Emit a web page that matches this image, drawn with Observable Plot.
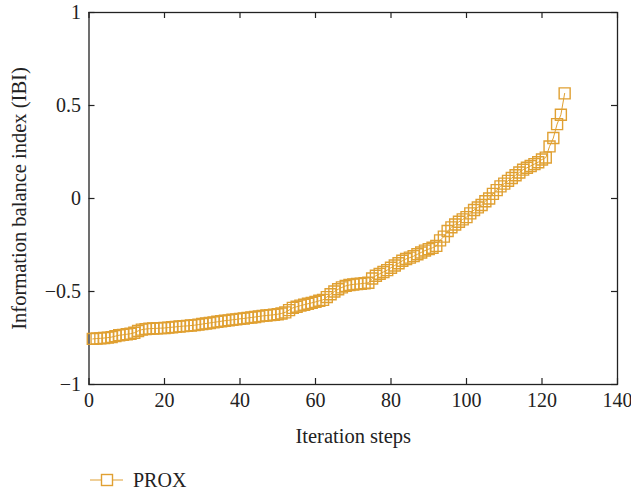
<!DOCTYPE html>
<html>
<head>
<meta charset="utf-8">
<script src="https://cdn.jsdelivr.net/npm/d3@7"></script>
<script src="https://cdn.jsdelivr.net/npm/@observablehq/plot@0.6"></script>
<style>
  body { margin: 0; background: #fff; font-family: "Liberation Serif", "DejaVu Serif", serif; }
  #legend { position: relative; height: 35px; }
</style>
</head>
<body>
<div id="chart"></div>
<div id="legend"></div>
<script>
const seriesName = "PROX";
const xLabel = "Iteration steps";
const yLabel = "Information balance index (IBI)";
const xTicks = [0, 20, 40, 60, 80, 100, 120, 140];
const yTicks = [-1, -0.5, 0, 0.5, 1];
const ibi = [
  -0.755, -0.753, -0.752, -0.750, -0.748, -0.745, -0.740, -0.735, -0.733, -0.730,
  -0.727, -0.722, -0.712, -0.705, -0.702, -0.700, -0.699, -0.698, -0.697, -0.696,
  -0.694, -0.692, -0.690, -0.688, -0.686, -0.685, -0.683, -0.681, -0.678, -0.675,
  -0.672, -0.669, -0.666, -0.663, -0.660, -0.657, -0.655, -0.652, -0.650, -0.647,
  -0.645, -0.642, -0.640, -0.637, -0.634, -0.631, -0.629, -0.627, -0.625, -0.622,
  -0.618, -0.612, -0.600, -0.588, -0.582, -0.576, -0.571, -0.566, -0.561, -0.556,
  -0.550, -0.545, -0.530, -0.515, -0.500, -0.488, -0.478, -0.470, -0.465, -0.462,
  -0.460, -0.458, -0.456, -0.453, -0.430, -0.415, -0.405, -0.395, -0.385, -0.372,
  -0.360, -0.348, -0.335, -0.325, -0.318, -0.310, -0.300, -0.290, -0.280, -0.272,
  -0.265, -0.255, -0.225, -0.205, -0.175, -0.155, -0.140, -0.125, -0.112, -0.100,
  -0.080, -0.062, -0.048, -0.035, -0.015, 0.000, 0.025, 0.045, 0.065, 0.080,
  0.095, 0.110, 0.125, 0.140, 0.155, 0.165, 0.175, 0.185, 0.195, 0.210,
  0.220, 0.280, 0.325, 0.400, 0.450, 0.565
];
const steps = ibi.map((_, i) => i + 1);
const data = steps.map((s, i) => ({step: s, value: ibi[i]}));

const color = "#E0A032";
const W = 631, H = 456;
const mL = 88.5, mR = 14, mT = 12, mB = 72;
const pw = W - mL - mR, ph = H - mT - mB;
const tick = 6;
const fmt = d => (d < 0 ? "\u2212" + Math.abs(d) : String(d));
const FONT = "Liberation Serif, DejaVu Serif, serif";

const chart = Plot.plot({
  width: W, height: H,
  marginLeft: mL, marginRight: mR, marginTop: mT, marginBottom: mB,
  style: {fontFamily: FONT, fontSize: "20px", color: "#222", background: "white"},
  x: {domain: [0, 140]},
  y: {domain: [-1, 1]},
  marks: [
    Plot.frame({stroke: "#222", strokeWidth: 1.3}),
    Plot.axisX(xTicks, {tickSize: 0, tickPadding: 8, tickFormat: fmt, fontSize: 20, label: null}),
    Plot.axisY(yTicks, {tickSize: 0, tickPadding: 8, tickFormat: fmt, fontSize: 20, label: null}),
    Plot.axisX({ticks: [], tickSize: 0, label: xLabel, labelAnchor: "center", labelOffset: 58, labelArrow: "none", fontSize: 20.5}),
    Plot.axisY({ticks: [], tickSize: 0, label: yLabel, labelAnchor: "center", labelOffset: 78, labelArrow: "none", fontSize: 20.5}),
    Plot.ruleX(xTicks, {x: d => d, insetTop: ph - tick, stroke: "#222", strokeWidth: 1.2}),
    Plot.ruleX(xTicks, {x: d => d, insetBottom: ph - tick, stroke: "#222", strokeWidth: 1.2}),
    Plot.ruleY(yTicks, {y: d => d, insetRight: pw - tick, stroke: "#222", strokeWidth: 1.2}),
    Plot.ruleY(yTicks, {y: d => d, insetLeft: pw - tick, stroke: "#222", strokeWidth: 1.2}),
    Plot.line(data, {x: "step", y: "value", stroke: color, strokeWidth: 1}),
    Plot.dot(data, {x: "step", y: "value", symbol: "square", r: 6.2, stroke: color, strokeWidth: 1.4, fill: "none"})
  ]
});
document.getElementById("chart").appendChild(chart);

// legend below the chart
const lg = d3.select("#legend").append("svg").attr("width", W).attr("height", 35);
lg.append("line").attr("x1", 90).attr("x2", 123).attr("y1", 24).attr("y2", 24)
  .attr("stroke", color).attr("stroke-width", 1.2);
lg.append("rect").attr("x", 101.5).attr("y", 18.5).attr("width", 11).attr("height", 11)
  .attr("fill", "white").attr("stroke", color).attr("stroke-width", 1.4);
lg.append("text").attr("x", 133).attr("y", 31).text(seriesName)
  .attr("font-family", FONT).attr("font-size", 20).attr("fill", "#222");
</script>
</body>
</html>
